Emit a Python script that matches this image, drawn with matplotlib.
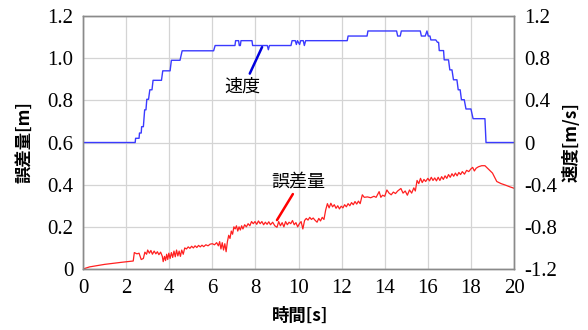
import matplotlib
matplotlib.use("Agg")
import matplotlib.pyplot as plt

# serif for numbers, Japanese labels get their own family
plt.rcParams['font.family'] = ['Liberation Serif', 'Noto Sans CJK JP']
plt.rcParams['font.size'] = 15

# speed [m/s] (right axis) - stair-like trace
speed_t = [0, 2.42, 2.44, 2.6, 2.62, 2.7, 2.72, 2.8, 2.86, 2.92, 2.96, 3.04, 3.1, 3.2,
           3.25, 3.64, 3.7, 4.04, 4.1, 4.5, 4.6, 6.06, 6.13, 7.05, 7.08, 7.22, 7.25,
           7.3, 7.33, 7.84, 7.87, 8.55, 8.6, 8.65, 9.65, 9.7, 9.85, 9.9, 9.95, 10.05,
           10.1, 10.22, 10.27, 10.33, 12.26, 12.3, 13.18, 13.22, 14.55, 14.6, 14.72,
           14.77, 15.65, 15.7, 15.88, 15.96, 16.02, 16.1, 16.14, 16.37, 16.45, 16.5,
           16.53, 16.73, 16.76, 16.96, 17.02, 17.12, 17.19, 17.35, 17.41, 17.5, 17.56,
           17.69, 17.77, 18.0, 18.1, 18.65, 18.7, 20]
speed_v = [0, 0, 0.04, 0.04, 0.09, 0.09, 0.15, 0.15, 0.31, 0.31, 0.41, 0.41, 0.50, 0.50,
           0.59, 0.59, 0.68, 0.68, 0.78, 0.78, 0.87, 0.87, 0.92, 0.92, 0.966, 0.966, 0.92,
           0.92, 0.966, 0.966, 0.92, 0.92, 0.88, 0.92, 0.92, 0.966, 0.966, 0.93, 0.966, 0.93,
           0.966, 0.966, 0.92, 0.966, 0.966, 1.01, 1.01, 1.058, 1.058, 1.01, 1.01,
           1.058, 1.058, 1.01, 1.01, 1.058, 1.01, 1.01, 0.973, 0.973, 0.95, 0.95,
           0.872, 0.872, 0.784, 0.784, 0.689, 0.689, 0.595, 0.595, 0.50, 0.50, 0.406,
           0.406, 0.318, 0.318, 0.226, 0.226, 0, 0]

# error amount [m] (left axis)
err_t = [0.0, 0.3, 1.0, 1.8, 2.33, 2.38, 2.5, 2.6, 2.7, 2.8, 2.87, 2.95, 3.0, 3.08, 3.15,
         3.22, 3.3, 3.38, 3.45, 3.52, 3.6, 3.68, 3.72, 3.78, 3.83, 3.88, 3.93, 3.98, 4.04,
         4.1, 4.16, 4.22, 4.28, 4.34, 4.4, 4.46, 4.52, 4.58, 4.65, 4.72, 4.8, 4.88, 4.96,
         5.04, 5.12, 5.2, 5.28, 5.36, 5.44, 5.52, 5.6, 5.7, 5.8, 5.9, 6.0, 6.1, 6.2, 6.28,
         6.34, 6.4, 6.46, 6.52, 6.58, 6.64, 6.7, 6.76, 6.82, 6.88, 6.94, 7.0, 7.06, 7.12,
         7.18, 7.24, 7.3, 7.36, 7.42, 7.5, 7.58, 7.66, 7.74, 7.82, 7.9, 7.98, 8.06, 8.14,
         8.22, 8.3, 8.38, 8.46, 8.54, 8.62, 8.7, 8.8, 8.9, 9.0, 9.08, 9.16, 9.24, 9.32,
         9.4, 9.48, 9.56, 9.64, 9.72, 9.8, 9.88, 9.96, 10.04, 10.12, 10.2, 10.28, 10.36,
         10.44, 10.52, 10.6, 10.68, 10.76, 10.86, 10.94, 11.02, 11.1, 11.18, 11.26, 11.34,
         11.42, 11.5, 11.58, 11.66, 11.74, 11.82, 11.9, 11.98, 12.06, 12.14, 12.22, 12.3,
         12.38, 12.46, 12.54, 12.62, 12.7, 12.78, 12.86, 12.96, 13.05, 13.2, 13.35, 13.5,
         13.6, 13.74, 13.82, 13.9, 14.0, 14.1, 14.2, 14.3, 14.4, 14.5, 14.6, 14.75, 14.85,
         14.95, 15.05, 15.15, 15.25, 15.35, 15.42, 15.5, 15.58, 15.66, 15.74, 15.82, 15.9,
         16.0, 16.08, 16.16, 16.24, 16.32, 16.4, 16.48, 16.56, 16.64, 16.72, 16.8, 16.88,
         16.96, 17.04, 17.12, 17.2, 17.28, 17.36, 17.44, 17.52, 17.6, 17.7, 17.8, 17.9,
         18.0, 18.08, 18.16, 18.24, 18.35, 18.5, 18.65, 18.8, 19.0, 19.2, 19.4, 19.6,
         19.8, 20.0]
err_v = [0.0, 0.01, 0.022, 0.032, 0.038, 0.078, 0.072, 0.075, 0.045, 0.05, 0.08, 0.07,
         0.09, 0.075, 0.088, 0.07, 0.085, 0.072, 0.082, 0.068, 0.08, 0.06, 0.035, 0.06,
         0.04, 0.07, 0.045, 0.075, 0.05, 0.078, 0.055, 0.085, 0.058, 0.09, 0.062, 0.085,
         0.06, 0.09, 0.07, 0.1, 0.095, 0.105, 0.098, 0.108, 0.1, 0.11, 0.102, 0.112,
         0.105, 0.113, 0.106, 0.115, 0.11, 0.118, 0.12, 0.115, 0.125, 0.11, 0.13, 0.095,
         0.125, 0.09, 0.12, 0.082, 0.13, 0.16, 0.145, 0.18, 0.165, 0.2, 0.19, 0.205, 0.18,
         0.2, 0.185, 0.205, 0.19, 0.21, 0.2, 0.215, 0.205, 0.225, 0.215, 0.225, 0.212,
         0.228, 0.215, 0.225, 0.21, 0.222, 0.212, 0.224, 0.21, 0.222, 0.205, 0.198, 0.225,
         0.205, 0.22, 0.2, 0.225, 0.21, 0.222, 0.215, 0.23, 0.21, 0.22, 0.2, 0.215, 0.225,
         0.19, 0.23, 0.24, 0.232, 0.245, 0.235, 0.242, 0.232, 0.222, 0.24, 0.228, 0.245,
         0.235, 0.28, 0.31, 0.29, 0.312, 0.295, 0.305, 0.288, 0.3, 0.285, 0.298, 0.29,
         0.305, 0.295, 0.31, 0.3, 0.315, 0.305, 0.32, 0.308, 0.322, 0.31, 0.352, 0.34,
         0.342, 0.338, 0.345, 0.34, 0.367, 0.34, 0.35, 0.345, 0.375, 0.36, 0.352, 0.365,
         0.358, 0.37, 0.382, 0.36, 0.37, 0.35, 0.375, 0.36, 0.385, 0.37, 0.42, 0.405,
         0.43, 0.41, 0.425, 0.415, 0.43, 0.418, 0.435, 0.42, 0.432, 0.418, 0.435, 0.42,
         0.438, 0.425, 0.442, 0.43, 0.448, 0.435, 0.452, 0.44, 0.455, 0.442, 0.458,
         0.448, 0.462, 0.45, 0.468, 0.462, 0.475, 0.482, 0.465, 0.478, 0.485, 0.49, 0.49,
         0.475, 0.455, 0.415, 0.405, 0.398, 0.39, 0.383]

x_ticks = [0, 2, 4, 6, 8, 10, 12, 14, 16, 18, 20]
left_ticks = [0, 0.2, 0.4, 0.6, 0.8, 1.0, 1.2]
left_labels = ['0', '0.2', '0.4', '0.6', '0.8', '1.0', '1.2']
right_ticks = [-1.2, -0.8, -0.4, 0, 0.4, 0.8, 1.2]
right_labels = ['-1.2', '-0.8', '-0.4', '0', '0.4', '0.8', '1.2']

jp = ['Noto Sans CJK JP', 'DejaVu Sans']

fig = plt.figure(figsize=(5.88, 3.30), dpi=100)
ax = fig.add_axes([0.1412, 0.1848, 0.7330, 0.7667])
ax2 = ax.twinx()

ax.plot(err_t, err_v, color='#ff2020', lw=0.9)
ax2.plot(speed_t, speed_v, color='#3a3aff', lw=1.0)

ax.set_xlim(0, 20)
ax.set_ylim(0, 1.2)
ax2.set_ylim(-1.2, 1.2)

ax.set_xticks(x_ticks, [str(v) for v in x_ticks])
ax.set_yticks(left_ticks, left_labels)
ax2.set_yticks(right_ticks, right_labels)

for a in (ax, ax2):
    a.tick_params(length=0, pad=7)
    for s in a.spines.values():
        s.set_color('#8a8a8a')
        s.set_linewidth(1.0)
ax.grid(True, color='#d4d4d4', lw=0.9)
ax.set_axisbelow(True)

ax.set_xlabel('時間[s]', fontfamily=jp, fontsize=12.5, fontweight='bold')
ax.xaxis.set_label_coords(0.503, -0.15)
ax.set_ylabel('誤差量[m]', fontfamily=jp, fontsize=12.5, fontweight='bold')
ax.yaxis.set_label_coords(-0.116, 0.5)
ax2.set_ylabel('速度[m/s]', fontfamily=jp, fontsize=12.5, fontweight='bold')
ax2.yaxis.set_label_coords(1.113, 0.5)

ax.annotate('速度', xy=(8.31, 1.053), xytext=(7.40, 0.865), fontfamily=jp,
            fontsize=13, ha='center', va='center',
            arrowprops=dict(arrowstyle='-', color='#0000dd', lw=1.8,
                            shrinkA=1, shrinkB=0, relpos=(0.65, 1.0)))
ax.annotate('誤差量', xy=(9.0, 0.232), xytext=(10.0, 0.417), fontfamily=jp,
            fontsize=13, ha='center', va='center',
            arrowprops=dict(arrowstyle='-', color='#ff0000', lw=1.8,
                            shrinkA=1, shrinkB=0, relpos=(0.44, 0.0)))

# make sure the numeric tick labels end up in the serif face
fig.canvas.draw()
for lab in ax.get_xticklabels() + ax.get_yticklabels() + ax2.get_yticklabels():
    lab.set_fontfamily(['Liberation Serif'])
    lab.set_fontsize(15)

fig.savefig('out.png', dpi=100)
